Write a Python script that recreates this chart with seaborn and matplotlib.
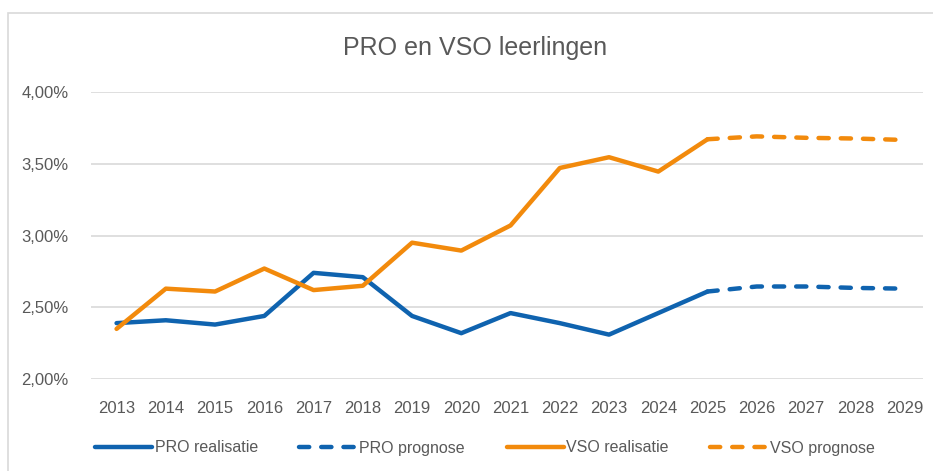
import numpy as np
import pandas as pd
import matplotlib
matplotlib.use("Agg")
import matplotlib.pyplot as plt
import seaborn as sns
from matplotlib.patches import Rectangle
from matplotlib.ticker import FuncFormatter

# =========================
# DATA
# =========================
years_real = [2013, 2014, 2015, 2016, 2017, 2018, 2019, 2020, 2021,
              2022, 2023, 2024, 2025]
years_prog = [2025, 2026, 2027, 2028, 2029]

pro_real = [2.39, 2.41, 2.38, 2.44, 2.74, 2.71, 2.44, 2.32, 2.46,
            2.39, 2.31, 2.46, 2.61]
pro_prog = [2.61, 2.645, 2.645, 2.635, 2.63]

vso_real = [2.35, 2.63, 2.61, 2.77, 2.62, 2.65, 2.95, 2.895, 3.07,
            3.47, 3.545, 3.445, 3.67]
vso_prog = [3.67, 3.69, 3.68, 3.675, 3.665]

y_ticks = [2.0, 2.5, 3.0, 3.5, 4.0]

blue = "#0F63AF"
orange = "#F28A0C"
grey_text = "#595959"

# =========================
# FIGURE
# =========================
sns.set_style("white")
plt.rcParams["font.family"] = ["Liberation Sans", "DejaVu Sans"]

fig = plt.figure(figsize=(9.33, 4.71), dpi=100)
ax = fig.add_axes([0.0975, 0.195, 0.8915, 0.61])

# chart border
fig.patches.append(
    Rectangle((0.009, -0.05), 1.2, 1.022,
              transform=fig.transFigure, fill=False,
              edgecolor="#D9D9D9", linewidth=1.2)
)

dash = (0, (2.3, 2.7))

series = [
    (years_real, pro_real, blue, "-", "PRO realisatie"),
    (years_prog, pro_prog, blue, dash, "PRO prognose"),
    (years_real, vso_real, orange, "-", "VSO realisatie"),
    (years_prog, vso_prog, orange, dash, "VSO prognose"),
]

for xs, ys, col, ls, lab in series:
    df = pd.DataFrame({"jaar": xs, "waarde": ys})
    sns.lineplot(
        data=df,
        x="jaar",
        y="waarde",
        color=col,
        linewidth=3.2,
        linestyle=ls,
        dash_capstyle="round",
        solid_capstyle="round",
        label=lab,
        ax=ax
    )

ax.set_xlim(2012.48, 2029.37)
ax.set_ylim(2.0, 4.0)
ax.set_yticks(y_ticks)
ax.yaxis.set_major_formatter(
    FuncFormatter(lambda v, p: f"{v:.2f}%".replace(".", ","))
)
ax.set_xticks(list(range(2013, 2030)))
ax.grid(axis="y", color="#D9D9D9", linewidth=1.2)
ax.set_axisbelow(True)
for s in ax.spines.values():
    s.set_visible(False)

ax.tick_params(axis="both", length=0, labelsize=12, colors=grey_text)
ax.tick_params(axis="y", pad=16)
ax.tick_params(axis="x", pad=16)
ax.set_xlabel("")
ax.set_ylabel("")

fig.text(
    475 / 933, 1 - 48 / 471,
    "PRO en VSO leerlingen",
    fontsize=18,
    color=grey_text,
    ha="center",
    va="center"
)

handles, labels = ax.get_legend_handles_labels()
ax.get_legend().remove()
fig.legend(
    handles,
    labels,
    loc="center",
    bbox_to_anchor=(485 / 933, 1 - 448 / 471),
    ncol=4,
    frameon=False,
    fontsize=11.5,
    handlelength=3.6,
    handletextpad=0.15,
    columnspacing=2.6,
    labelcolor=grey_text
)

plt.savefig("out.png", dpi=100)
plt.close()
